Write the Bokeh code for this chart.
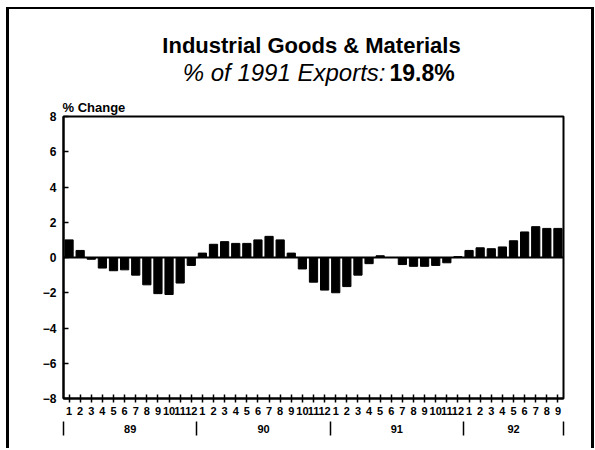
from bokeh.plotting import figure
from bokeh.models import Range1d, FixedTicker, LinearAxis, Label, Span
from bokeh.embed import file_html
from bokeh.resources import INLINE

# ---- data ----
year_labels = ["89", "90", "91", "92"]
chg_1989 = [1.0, 0.4, -0.1, -0.6, -0.75, -0.7, -1.0, -1.55, -2.05, -2.1, -1.45, -0.45]
chg_1990 = [0.25, 0.75, 0.9, 0.8, 0.8, 1.0, 1.2, 1.0, 0.25, -0.65, -1.4, -1.85]
chg_1991 = [-2.0, -1.65, -1.0, -0.35, 0.1, 0.0, -0.4, -0.5, -0.5, -0.45, -0.3, 0.05]
chg_1992 = [0.4, 0.55, 0.5, 0.6, 0.95, 1.45, 1.75, 1.65, 1.65]
y_ticks = [-8, -6, -4, -2, 0, 2, 4, 6, 8]

title_text = "Industrial Goods & Materials"
subtitle_text = "% of 1991 Exports:"
subtitle_value = "19.8%"
y_title = "% Change"

series = [chg_1989, chg_1990, chg_1991, chg_1992]
values = [v for s in series for v in s]
month_nums = [m + 1 for s in series for m in range(len(s))]
xs = list(range(1, len(values) + 1))

bounds = [0.5]
centers = []
for s in series:
    centers.append(bounds[-1] + len(s) / 2.0)
    bounds.append(bounds[-1] + len(s))

FONT = "Liberation Sans"

# ---- layout geometry (pixels) ----
W, H = 594, 448
FL, FR, FT, FB = 63, 563, 116, 398   # frame edges
X0, X1 = 0.5, len(values) + 0.5
Y0, Y1 = -8, 8


def px_x(px):
    return X0 + (px - FL) * (X1 - X0) / (FR - FL)


def px_y(py):
    return Y1 - (py - FT) * (Y1 - Y0) / (FB - FT)


p = figure(width=W, height=H, output_backend="svg", toolbar_location=None,
           x_range=Range1d(X0, X1), y_range=Range1d(Y0, Y1),
           min_border_left=FL, min_border_right=W - FR, min_border_top=FT,
           min_border_bottom=H - FB)
p.border_fill_color = None
p.background_fill_color = "white"
p.outline_line_color = "black"
p.outline_line_width = 2
p.xgrid.visible = False
p.ygrid.visible = False
p.styles = {
    "background": (
        "linear-gradient(#000,#000) 6px 7px / 3px 441px no-repeat,"
        "linear-gradient(#000,#000) 6px 7px / 588px 2px no-repeat,"
        "linear-gradient(#000,#000) 591px 7px / 3px 441px no-repeat"
    )
}

p.vbar(x=xs, top=values, bottom=0, width=0.74, color="black")
p.add_layout(Span(location=0, dimension="width", line_color="black", line_width=2))

# y axis
ya = p.yaxis[0]
ya.ticker = FixedTicker(ticks=y_ticks)
ya.major_tick_in = 5
ya.major_tick_out = 0
ya.minor_tick_line_color = None
ya.axis_line_width = 2
ya.major_tick_line_width = 1.5
ya.major_label_text_font = FONT
ya.major_label_text_font_style = "bold"
ya.major_label_text_font_size = "12px"
ya.major_label_text_color = "black"
ya.major_label_standoff = 7

# month axis
xa = p.xaxis[0]
xa.ticker = FixedTicker(ticks=xs)
xa.major_label_overrides = {x: str(m) for x, m in zip(xs, month_nums)}
xa.major_tick_in = 4
xa.major_tick_out = 4
xa.major_tick_line_width = 1.5
xa.minor_tick_line_color = None
xa.axis_line_width = 2
xa.major_label_text_font = FONT
xa.major_label_text_font_style = "bold"
xa.major_label_text_font_size = "11px"
xa.major_label_text_color = "black"
xa.major_label_standoff = 4

# year axis with group separators
yr = LinearAxis(ticker=FixedTicker(ticks=centers, minor_ticks=bounds))
yr.major_label_overrides = {c: y for c, y in zip(centers, year_labels)}
yr.axis_line_color = None
yr.major_tick_line_color = None
yr.major_tick_in = 0
yr.major_tick_out = 0
yr.minor_tick_in = -4
yr.minor_tick_out = 18
yr.minor_tick_line_width = 1.5
yr.major_label_text_font = FONT
yr.major_label_text_font_style = "bold"
yr.major_label_text_font_size = "11px"
yr.major_label_text_color = "black"
yr.major_label_standoff = -11
p.add_layout(yr, "below")

# titles in the top panel, positioned in data units
p.add_layout(Label(x=px_x(62), y=px_y(107), text=y_title, text_align="left",
                   text_baseline="alphabetic", text_font=FONT, text_font_style="bold",
                   text_font_size="13px", text_color="black"), "above")
p.add_layout(Label(x=px_x(389), y=px_y(72), text=subtitle_value, text_align="left",
                   text_baseline="alphabetic", text_font=FONT, text_font_style="bold",
                   text_font_size="23px", text_color="black"), "above")
p.add_layout(Label(x=px_x(385), y=px_y(72), text=subtitle_text, text_align="right",
                   text_baseline="alphabetic", text_font=FONT, text_font_style="italic",
                   text_font_size="24px", text_color="black"), "above")
p.add_layout(Label(x=px_x(311), y=px_y(45), text=title_text, text_align="center",
                   text_baseline="alphabetic", text_font=FONT, text_font_style="bold",
                   text_font_size="22px", text_color="black"), "above")

open("out.html", "w").write(file_html(p, INLINE))
